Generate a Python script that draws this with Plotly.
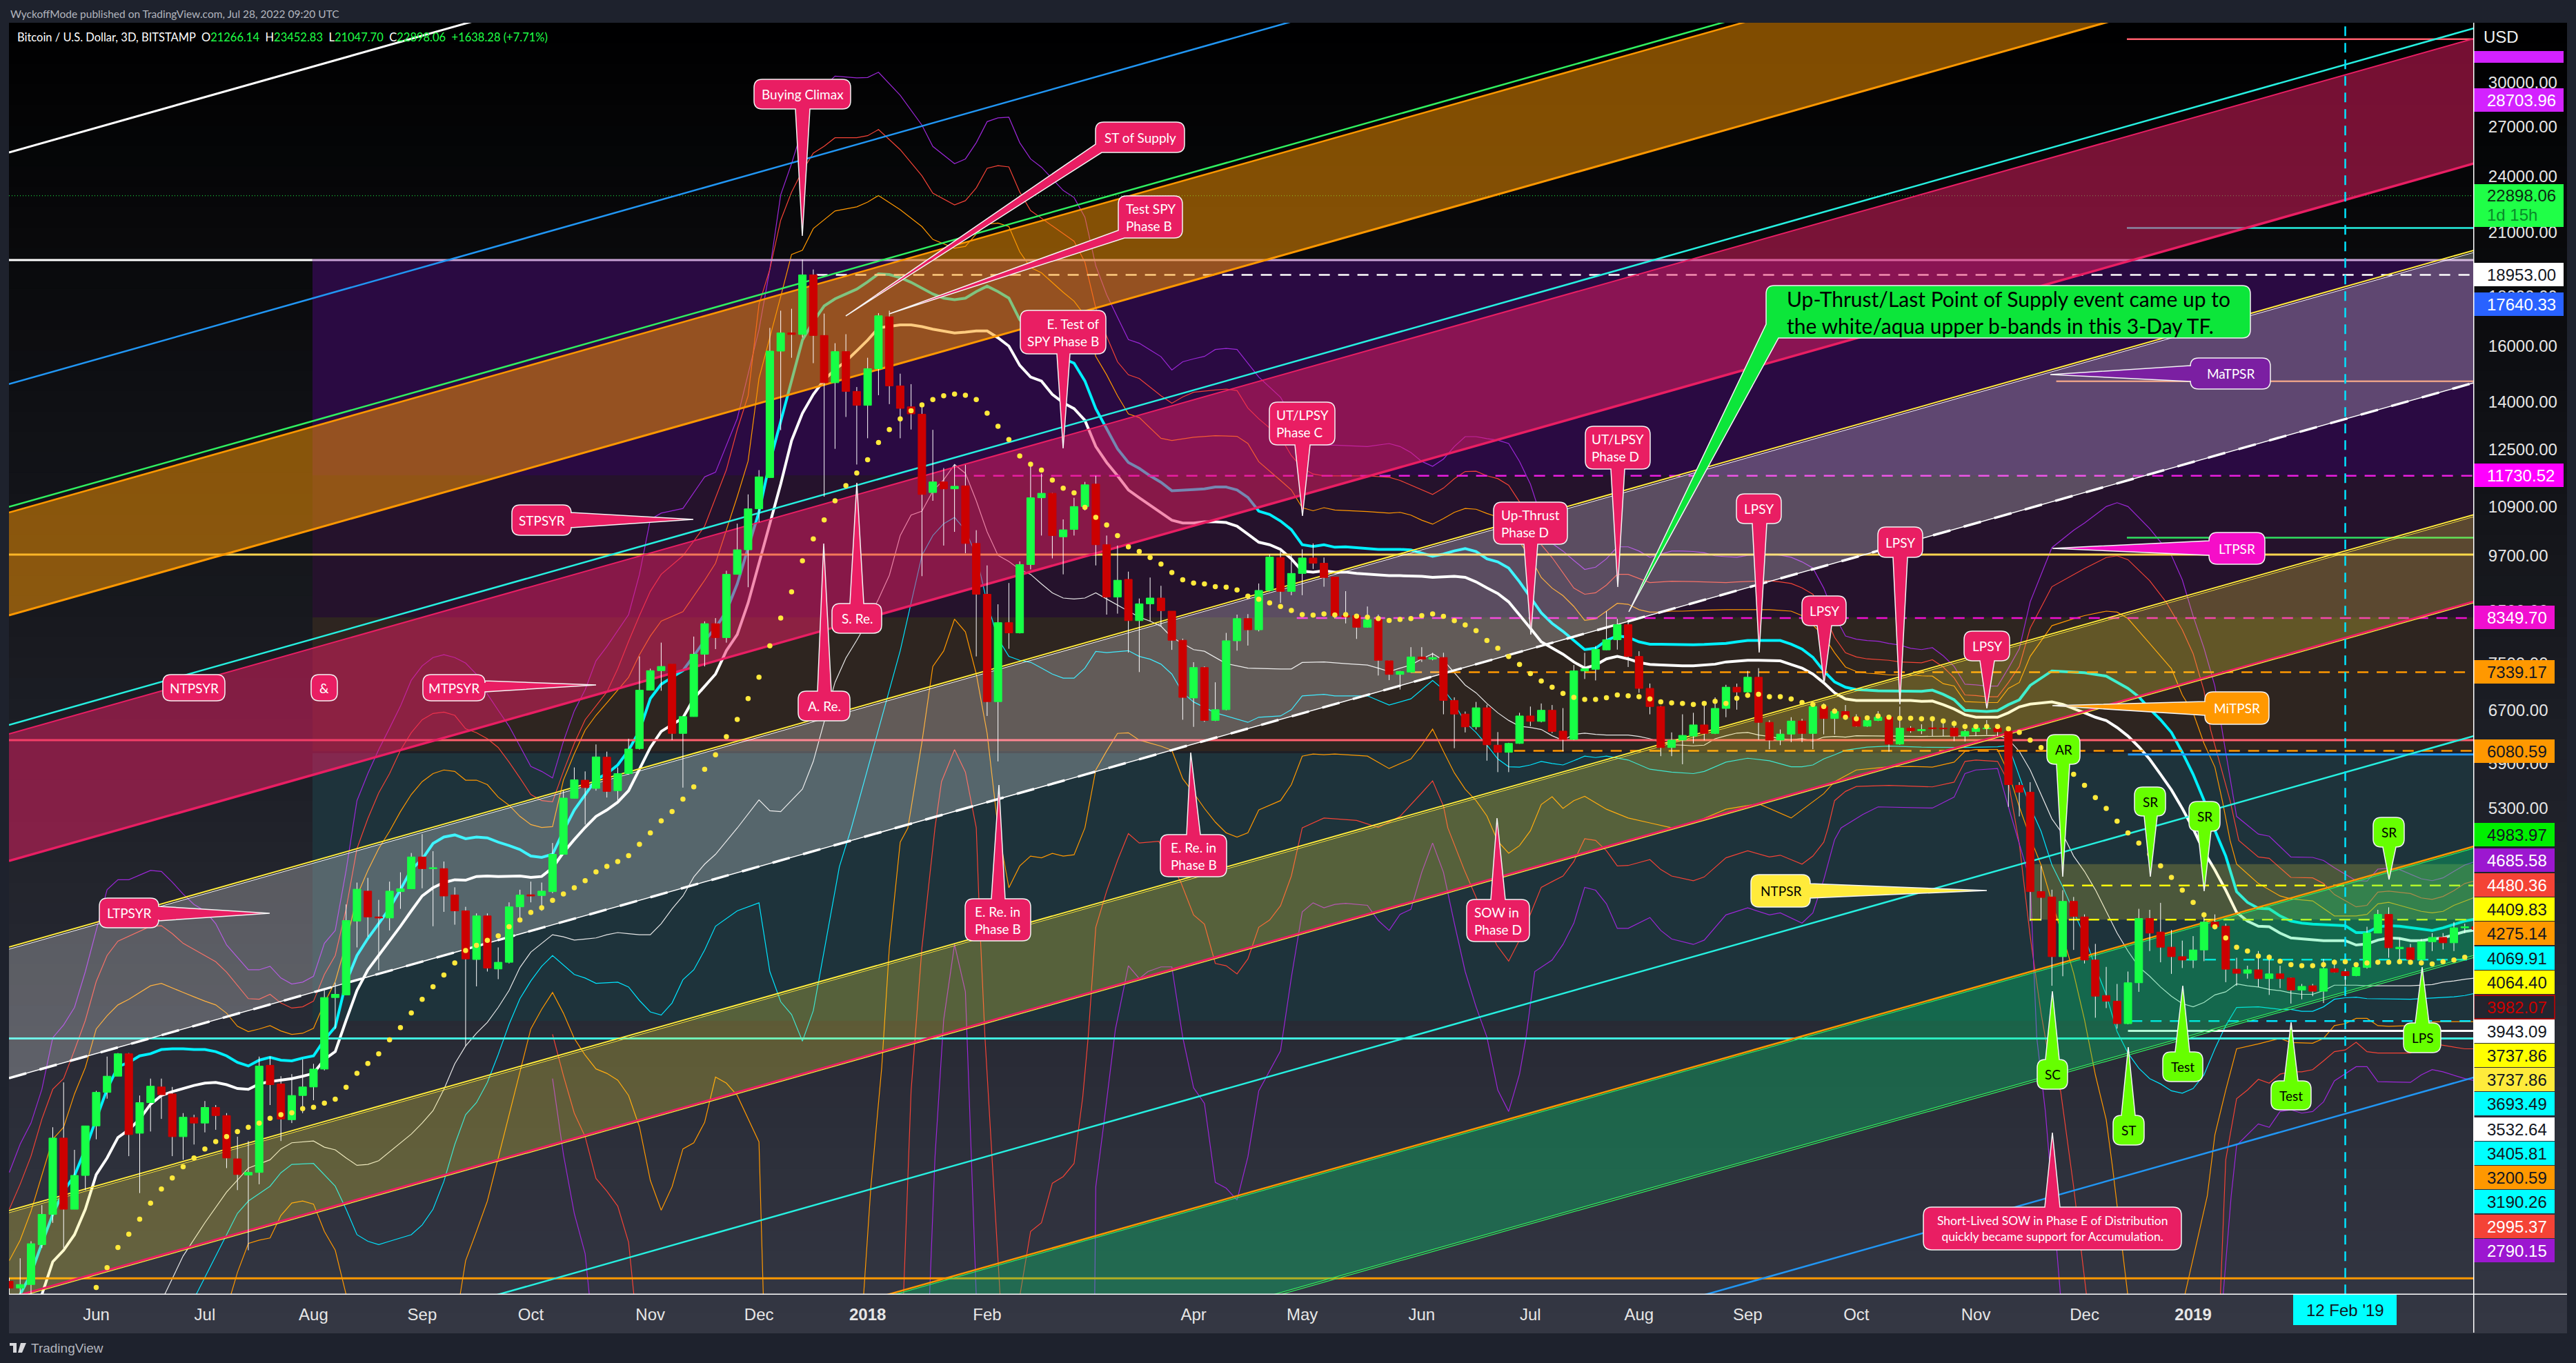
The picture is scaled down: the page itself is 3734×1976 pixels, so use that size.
import plotly.graph_objects as go

# ------------------------------------------------------------------ data
opens = [1713,1686,1700,1870,2010,2412,2035,2206,2483,2690,2796,2950,2440,2625,2725,2680,2420,2533,2500,2595,2545,2295,2208,2222,2870,2745,2520,2670,2725,2844,3374,3395,4050,4350,4090,4080,4345,4375,4720,4590,4590,4310,4150,3695,4100,3612,3670,4190,4312,4305,4345,4750,5430,5670,5560,5990,5530,5760,
6115,7030,7365,7480,6340,6600,7660,8240,7970,9270,9830,10840,11680,15800,16500,16440,18953,16400,14650,15780,14350,13880,15150,17150,14540,13830,13590,11270,11560,11370,11450,9980,8840,6840,8260,8060,9490,11130,11250,10140,10320,10900,11500,9950,8780,9160,8300,8640,8760,8490,7920,6900,7420,6540,6710,7910,
8340,8120,8920,9650,8900,9290,9640,9520,9210,8400,8400,8170,8320,7540,7300,7340,7610,7570,7600,6860,6640,6440,6740,6165,6060,6190,6610,6525,6700,6375,6250,7360,7390,7740,7930,8220,7620,7060,6760,6130,6240,6300,6470,6340,6730,7080,7000,7250,6510,6240,6330,6530,6340,6760,6570,6680,6590,6450,6540,6590,6180,6420,6380,
6425,6420,6420,6300,6370,6410,6420,6370,5600,5510,4345,4290,3720,4245,4090,3690,3390,3345,3170,3495,4075,3945,3805,3720,3690,3780,4040,4000,3610,3575,3605,3530,3570,3535,3435,3470,3425,3615,3590,3555,3625,3935,4115,3790,3800,3695,3855,3895,3845,3985,3995]
closes = [1686,1700,1874,2010,2412,2035,2206,2483,2690,2796,2950,2432,2625,2730,2675,2420,2535,2500,2595,2545,2300,2211,2222,2864,2740,2524,2670,2725,2844,3374,3400,4055,4370,4090,4080,4350,4375,4720,4590,4600,4300,4150,3700,4100,3620,3670,4190,4310,4300,4350,4750,5433,5675,5570,5994,5520,5760,6108,
7030,7365,7440,6340,6600,7660,8240,7970,9270,9830,10840,11700,15800,16500,16440,18953,16400,14650,15780,14350,13880,15150,17190,14540,13780,13600,11220,11560,11370,11440,9980,8840,6840,8260,8060,9490,11130,11250,10170,10310,10900,11480,9950,8780,9140,8300,8640,8760,8500,7920,6910,7420,6540,6710,7910,8340,
8120,8920,9660,8900,9290,9640,9520,9200,8400,8370,8170,8320,7550,7300,7350,7610,7570,7600,6860,6640,6440,6740,6170,6060,6190,6610,6525,6700,6370,6250,7360,7400,7750,7930,8220,7620,7060,6760,6130,6240,6310,6470,6340,6730,7080,7000,7250,6510,6240,6330,6530,6340,6760,6570,6680,6590,6450,6540,6590,6180,6420,6380,6400,
6410,6410,6300,6370,6420,6420,6365,5610,5510,4345,4285,3720,4245,4095,3690,3385,3345,3170,3495,4075,3935,3805,3720,3690,3780,4040,3995,3610,3575,3605,3530,3570,3530,3435,3465,3425,3615,3585,3555,3625,3935,4115,3800,3805,3695,3855,3895,3845,3985,3995,3970]
highs = [1727,1810,1885,2055,2475,2755,2345,2483,2700,2930,2955,2955,2670,2780,2780,2725,2560,2550,2635,2610,2560,2420,2395,2930,2930,2796,2810,2910,2880,3432,3496,4214,4440,4490,4260,4450,4550,4765,4985,4785,4669,4390,4190,4125,4125,3803,4235,4365,4450,4440,4880,5530,5845,5790,6175,6070,5845,6260,
7620,7400,7875,7480,6610,7990,8285,8350,9350,10463,11220,11890,16700,17400,17480,19666,19200,17280,16100,16450,14500,15550,17300,17400,14970,14600,13820,13090,11950,12040,12040,10300,9470,8630,9080,9560,12060,11790,11260,10570,11130,11560,11730,10170,9930,9330,8750,9200,9020,8490,7950,7515,7440,7163,8060,8420,
8430,9070,9720,9800,9720,9840,9980,9650,9215,8905,8410,8585,8420,7545,7360,7790,7790,7687,7687,6910,6680,6835,6790,6360,6200,6660,6760,6810,6785,6735,7465,7687,7810,8490,8335,8274,7715,7142,6770,6355,6636,6660,6835,6910,7120,7140,7360,7410,6540,6400,6590,6565,6810,6810,6735,6785,6636,6590,6685,6620,6760,6450,6480,
6537,6537,6537,6395,6480,6545,6465,6420,5643,5643,4620,4365,4360,4290,4115,3835,3630,3485,3590,4170,4160,4230,3965,3865,3907,4135,4115,4025,3710,3640,3770,3740,3640,3540,3485,3485,3700,3695,3615,3670,3995,4160,4185,3890,3835,3880,3935,3935,4040,4025,4020]
lows = [1660,1660,1660,1855,1970,1855,2035,2130,2405,2650,2796,2310,2115,2450,2525,2310,2290,2375,2445,2460,2245,2130,1845,2160,2610,2395,2500,2560,2640,2835,3130,3395,3803,3900,3600,3960,4170,4375,4380,4000,4140,4015,3005,3465,3590,3525,3660,4060,4235,4150,4330,4750,5430,5100,5530,5440,5360,5745,
6100,7030,7020,6240,5570,6600,7440,7755,7875,9270,8990,10500,11680,13080,15550,16320,15350,11160,12510,13500,12050,12830,14220,13920,12830,13100,9230,11050,9930,10260,9750,7620,6610,5930,7760,8050,9380,10170,9630,9270,10170,10800,9470,8420,8440,7690,7340,8290,8190,7740,6550,6440,6518,6530,6700,7725,
7820,8090,8900,8660,8820,8820,9390,9000,8340,8245,7945,8160,7280,7200,7040,7330,7520,7550,6636,6120,6355,6400,5940,5780,5780,6185,6450,6510,6345,6075,6240,7220,7195,7735,7745,7430,6985,6636,6005,6005,5890,6190,6235,6330,6590,6710,6985,6245,6105,6165,6210,6210,6105,6325,6325,6550,6440,6440,6530,6070,6170,6350,6330,
6300,6300,6225,6220,6300,6320,6300,5320,5200,4050,4055,3470,3550,3780,3660,3215,3290,3133,3165,3420,3770,3670,3570,3620,3620,3680,3970,3500,3470,3530,3460,3395,3450,3325,3360,3385,3330,3580,3470,3550,3615,3935,3710,3680,3690,3685,3770,3785,3770,3935,3950]

dots_first_bar = 8
dots = [1688,1770,1857,1917,1987,2065,2136,2193,2252,2300,2350,2392,2420,2450,2475,2500,2529,2550,2562,2588,2596,2622,2647,2723,2815,2882,2950,3050,3140,3252,3360,3462,3560,3665,3775,3822,3868,3910,3995,4060,4135,4180,4255,4320,4385,4460,4555,4615,4669,4735,4865,5000,5145,5260,5420,
5580,5820,6025,6290,6555,6890,7250,7815,8350,8890,9575,10090,10555,11050,11460,11810,12190,12700,13100,13440,13700,13894,14070,14200,14260,14220,14070,13620,13200,12790,12300,12060,11890,11610,11390,11260,10880,10620,10430,10170,9900,9790,9650,9500,9310,9150,9080,9060,9000,8990,8930,
8800,8735,8660,8585,8505,8420,8410,8435,8415,8420,8390,8370,8340,8305,8325,8340,8400,8435,8385,8300,8215,8105,7915,7770,7620,7475,7315,7185,7080,6975,6910,6875,6875,6905,6950,6935,6920,6885,6835,6820,6810,6795,6810,6845,6810,6895,6945,6960,6920,6920,6885,6825,6795,6760,6685,6590,6565,6580,6610,6590,6575,6575,6565,
6565,6530,6490,6445,6445,6445,6445,6410,6355,6240,6130,5990,5880,5750,5600,5440,5300,5140,5000,4880,4750,4620,4495,4360,4235,4110,3995,3890,3805,3770,3725,3715,3680,3650,3640,3640,3650,3670,3675,3650,3665,3670,3670,3675,3670,3665,3655,3675,3690,3715]

white_thick = [(3,1660),(4,1795),(5,1845),(6,1915),(7,2035),(8,2210),(9,2300),(10,2415),(11,2460),(12,2524),(13,2615),(14,2670),(15,2695),(16,2715),(17,2735),(18,2750),(19,2755),(20,2740),(21,2715),(22,2710),(23,2745),(24,2760),(25,2770),(26,2780),(27,2796),(28,2815),(29,2910),(30,2965),(31,3195),(32,3432),(33,3605),(34,3730),(35,3860),(36,4000),(37,4150),(38,4300),(39,4385),(40,4440),(41,4470),(42,4465),(43,4505),(44,4510),(45,4505),(46,4510),(47,4510),(48,4495),(49,4505),(50,4600),(51,4770),(52,4920),(53,5065),(54,5200),(55,5280),(56,5380),(57,5530),(58,5820),(59,6130),(60,6370),(61,6480),(62,6580),(63,6890),(64,7090),(65,7305),(66,7725),(67,8030),(68,8657),(69,9519),(70,10463),(71,11500),(72,12760),(73,13620),(74,14245),(75,14750),(76,15120),(77,15420),(78,15810),(79,16220),(80,16700),(81,16760),(82,16820),(83,16820),(84,16750),(85,16650),(86,16580),(87,16500),(88,16530),(89,16580),(90,16580),(91,16310),(92,15990),(93,15271),(94,14850),(95,14710),(96,14245),(97,13965),(98,13770),(99,13390),(100,12580),(101,12110),(102,11730),(103,11340),(104,11130),(105,10930),(106,10730),(107,10550),(108,10480),(109,10480),(110,10510),(111,10510),(112,10490),(113,10400),(114,10205),(115,10010),(116,9950),(117,9840),(118,9620),(119,9340),(120,9320),(121,9350),(122,9320),(123,9320),(124,9290),(125,9270),(126,9250),(127,9240),(128,9240),(129,9240),(130,9225),(131,9205),(132,9215),(133,9225),(134,9205),(135,9105),(136,8975),(137,8855),(138,8680),(139,8400),(140,8150),(141,7890),(142,7770),(143,7660),(144,7520),(145,7410),(146,7465),(147,7575),(148,7620),(149,7575),(150,7510),(151,7475),(152,7465),(153,7455),(154,7450),(155,7450),(156,7465),(157,7480),(158,7520),(159,7540),(160,7550),(161,7550),(162,7540),(163,7540),(164,7475),(165,7410),(166,7305),(167,7155),(168,6985),(169,6885),(170,6860),(175,6860),(176,6845),(177,6850),(178,6790),(179,6720),(180,6630),(181,6590),(182,6590),(183,6590),(184,6660),(185,6755),(186,6800),(187,6820),(188,6835),(189,6795),(190,6730),(191,6660),(192,6590),(193,6537),(194,6430),(195,6300),(196,6140),(197,5960),(198,5750),(199,5540),(200,5300),(201,5050),(202,4780),(203,4575),(204,4360),(205,4135),(206,4050),(207,4000),(208,3995),(209,3935),(210,3890),(211,3880),(212,3870),(213,3865),(215,3865),(216,3825),(217,3835),(218,3870),(219,3890),(220,3885),(221,3865),(222,3865),(223,3880),(224,3890),(225,3920),(226,3950),(227,3965)]
cyan_thick = [(1,1660),(2,1745),(3,1875),(4,2010),(5,2125),(6,2205),(7,2350),(8,2524),(9,2710),(10,2860),(11,2890),(12,2935),(13,2950),(14,2980),(15,2985),(16,2985),(17,2980),(18,2980),(19,2965),(20,2935),(21,2890),(22,2865),(23,2905),(24,2925),(25,2905),(26,2900),(27,2920),(28,2935),(29,3050),(30,3145),(31,3500),(32,3730),(33,3885),(34,4025),(35,4175),(36,4365),(37,4580),(38,4695),(39,4875),(40,4950),(41,4975),(42,4930),(43,4950),(44,4940),(45,4890),(46,4850),(47,4805),(48,4730),(49,4715),(50,4750),(51,5020),(52,5280),(53,5480),(54,5680),(55,5760),(56,5880),(57,6090),(58,6380),(59,6890),(60,7130),(61,7250),(62,7365),(63,7630),(64,7915),(65,8155),(66,8490),(67,9060),(68,9900),(69,10760),(70,12120),(71,13370),(72,14750),(73,16220),(74,16950),(75,17600),(76,17900),(77,18110),(78,18320),(79,18640),(80,19000),(81,18970),(82,18830),(83,18620),(84,18350),(85,18110),(86,17930),(87,17860),(88,17930),(89,18210),(90,18450),(91,18210),(92,17930),(93,17030),(94,16630),(95,16310),(96,15900),(97,15520),(98,15350),(99,14710),(100,13770),(101,13130),(102,12510),(103,12110),(104,11940),(105,11730),(106,11550),(107,11320),(108,11330),(109,11350),(110,11370),(111,11420),(112,11420),(113,11340),(114,11140),(115,10780),(116,10695),(117,10530),(118,10315),(119,9950),(120,9910),(121,9950),(122,9890),(123,9900),(124,9880),(125,9860),(126,9840),(128,9840),(129,9825),(130,9750),(131,9680),(132,9730),(133,9805),(134,9860),(135,9790),(136,9620),(137,9550),(138,9410),(139,9105),(140,8775),(141,8455),(142,8245),(143,8090),(144,7915),(145,7745),(146,7770),(147,7915),(148,8005),(149,7975),(150,7890),(151,7845),(152,7845),(153,7840),(154,7840),(155,7835),(156,7840),(157,7845),(158,7860),(159,7890),(160,7915),(163,7915),(164,7845),(165,7755),(166,7605),(167,7360),(168,7170),(169,7080),(170,7040),(171,7030),(172,7020),(176,7010),(177,7030),(178,6960),(179,6870),(180,6700),(181,6690),(182,6680),(183,6695),(184,6790),(185,6870),(186,7110),(188,7360),(190,7340),(191,7330),(193,7270),(194,7170),(195,7060),(196,6920),(197,6720),(198,6550),(199,6355),(200,6060),(201,5750),(202,5405),(203,5030),(204,4730),(205,4345),(206,4235),(207,4175),(208,4170),(209,4100),(210,4050),(211,4030),(212,4020),(213,4015),(214,4005),(215,4005),(216,3940),(217,3940),(218,3995),(219,4005),(220,4000),(221,3985),(222,3970),(223,3960),(224,3985),(225,4020),(226,4050),(227,4070)]

purple_upper = [(0,2222),(1,2377),(2,2500),(3,2710),(4,3065),(5,3160),(6,3295),(7,3590),(8,3960),(9,4365),(10,4470),(11,4470),(12,4520),(13,4570),(14,4560),(15,4445),(16,4320),(17,4214),(18,4150),(19,4025),(20,3825),(21,3710),(22,3605),(23,3605),(24,3635),(25,3535),(26,3485),(27,3500),(28,3550),(29,3840),(30,3960),(31,4570),(32,5400),(33,5760),(34,6100),(35,6420),(36,6765),(37,7200),(38,7450),(39,7600),(40,7650),(41,7600),(42,7500),(43,7300),(44,6965),(45,6700),(46,6450),(47,6150),(48,5860),(49,5790),(50,5700),(51,6220),(52,6690),(53,7036),(54,7540),(55,7800),(56,8100),(57,8420),(58,9270),(59,10570),(60,10730),(62,10850),(64,11700),(65,11830),(67,13450),(68,14930),(69,16630),(70,19210),(71,22950),(72,24720),(73,26880),(74,29000),(76,30470),(78,30340),(79,30370),(80,30750),(82,29110),(84,27100),(85,25760),(87,24720),(88,25000),(89,25990),(90,27330),(91,27580),(92,27620),(93,25990),(94,25000),(95,24510),(97,23190),(98,22800),(99,21750),(100,19370),(101,18080),(102,17130),(103,16240),(104,16100),(106,15590),(107,15100),(108,15400),(109,15510),(110,15600),(111,15860),(112,15900),(113,15860),(114,15340),(115,14850),(117,14150),(118,13530),(119,12860),(120,12670),(121,12620),(122,12620),(125,12580),(127,12670),(128,12580),(129,12400),(130,12140),(131,12000),(132,12210),(133,12580),(134,12880),(135,12880),(136,12820),(137,12770),(138,12670),(139,12140),(140,11500),(141,10620),(142,9980),(143,9800),(144,9584),(145,9380),(146,9430),(147,9620),(148,9900),(149,9900),(150,9800),(151,9655),(152,9730),(153,9800),(154,9800),(155,9790),(156,9760),(157,9690),(158,9670),(159,9655),(160,9700),(161,9715),(162,9730),(163,9705),(164,9655),(165,9550),(166,9410),(167,8970),(168,8400),(169,8000),(170,7940),(171,7915),(172,7900),(173,7860),(174,7830),(175,7770),(176,7745),(177,7780),(178,7630),(179,7440),(180,7130),(181,7120),(182,7100),(183,7100),(184,7410),(185,7760),(186,8680),(188,9880),(190,10300),(191,10480),(193,10900),(194,11000),(195,10900),(197,10340),(199,9700),(200,9150),(201,8390),(202,7770),(203,7100),(204,6060),(205,5200),(207,4985),(208,4960),(210,4720),(212,4715),(213,4680),(214,4600),(216,4460),(217,4455),(218,4585),(219,4595),(220,4580),(221,4530),(222,4480),(223,4460),(224,4490),(225,4560),(226,4630),(227,4670)]
red_upper = [(0,2035),(1,2160),(2,2310),(3,2524),(4,2710),(5,2780),(6,2975),(7,3195),(8,3505),(9,3730),(10,3860),(11,3905),(12,3955),(13,4000),(14,4005),(15,3930),(16,3840),(17,3785),(18,3730),(19,3675),(20,3585),(21,3470),(22,3365),(23,3360),(24,3400),(25,3330),(26,3290),(27,3300),(28,3345),(29,3565),(30,3730),(31,4170),(32,4815),(33,5173),(34,5500),(35,5760),(36,6090),(37,6351),(38,6550),(39,6650),(40,6670),(41,6620),(42,6410),(43,6351),(44,6260),(45,6130),(46,5920),(47,5700),(48,5480),(49,5400),(50,5385),(51,5790),(52,6190),(53,6550),(54,6765),(55,7000),(56,7400),(57,7900),(58,8400),(59,8900),(60,9270),(62,9690),(64,10400),(66,11900),(67,13100),(68,14200),(69,17660),(70,19210),(71,21600),(72,23100),(73,24300),(74,25350),(75,25770),(76,26300),(78,26300),(79,26430),(80,26820),(82,25560),(84,24010),(85,23040),(87,22400),(88,22630),(89,23330),(90,24450),(91,24600),(92,24530),(93,23100),(94,22100),(95,21700),(97,20900),(98,20540),(99,19530),(100,17500),(101,16370),(102,15400),(103,14930),(104,14800),(106,14200),(107,13950),(108,14160),(109,14320),(111,14400),(112,14430),(113,14380),(114,13790),(115,13440),(117,12862),(118,12310),(119,11950),(120,11780),(121,11730),(125,11730),(127,11690),(128,11600),(129,11470),(130,11340),(131,11220),(132,11390),(133,11650),(134,11850),(135,11860),(136,11730),(137,11650),(138,11470),(139,11020),(140,10550),(141,9950),(142,9650),(143,9300),(144,8970),(145,8840),(146,8870),(147,9035),(148,9270),(149,9270),(150,9180),(151,9090),(152,9105),(153,9120),(155,9110),(156,9105),(158,9090),(159,9105),(160,9110),(161,9125),(162,9130),(163,9105),(164,9070),(165,8975),(166,8840),(167,8450),(168,7975),(169,7687),(170,7610),(171,7575),(172,7565),(173,7550),(174,7520),(175,7510),(176,7505),(177,7560),(178,7430),(179,7240),(180,6950),(181,6940),(182,6920),(183,6920),(184,7160),(185,7440),(186,8150),(188,9000),(190,9260),(191,9400),(193,9650),(194,9690),(195,9600),(197,9130),(198.5,8680),(200,8120),(201,7670),(202,7020),(202.6,6400),(203.5,5880),(204.4,5400),(205.2,4910),(207,4720),(208,4705),(210,4495),(212,4490),(213,4430),(214,4315),(216,4190),(217,4205),(218,4340),(219,4350),(220,4340),(221,4325),(222,4280),(223,4265),(224,4295),(225,4355),(226,4430),(227,4460)]
orange_upper = [(0,1800),(1,1890),(2,2025),(3,2210),(4,2405),(5,2475),(6,2680),(7,2855),(8,3130),(9,3230),(10,3315),(11,3360),(12,3415),(13,3470),(14,3490),(15,3450),(16,3415),(17,3380),(18,3345),(19,3315),(20,3250),(21,3150),(22,3110),(23,3130),(24,3155),(25,3115),(26,3090),(27,3098),(28,3135),(29,3330),(30,3505),(31,3840),(32,4300),(33,4570),(34,4815),(35,5020),(36,5260),(37,5480),(38,5650),(39,5760),(40,5810),(41,5790),(42,5670),(43,5670),(44,5610),(45,5445),(46,5340),(47,5200),(48,5100),(49,5065),(50,5075),(51,5670),(52,6040),(53,6390),(54,6620),(55,6820),(56,7036),(57,7250),(58,7650),(59,8000),(60,8290),(62,8480),(64,9140),(65,9519),(67,11160),(68,12150),(69,14800),(70,16300),(71,18000),(72,19900),(73,20100),(74,21170),(75,21620),(76,22080),(78,22300),(79,22550),(80,22910),(82,22150),(84,21270),(85,20630),(87,20200),(88,20290),(89,20900),(90,21400),(91,21450),(92,21270),(93,20030),(94,19290),(95,19050),(97,18180),(98,17800),(99,17200),(100,15600),(101,14930),(102,14200),(103,13600),(104,13480),(106,12830),(107,12760),(109,12862),(111,12910),(113,12890),(114,12670),(115,12130),(117,11600),(118,11340),(119,10870),(120,10790),(121,10870),(122,10810),(125,10770),(127,10730),(128,10750),(129,10680),(130,10550),(131,10450),(132,10590),(133,10750),(134,10850),(135,10830),(136,10720),(137,10630),(138,10390),(139,10010),(140,9655),(141,9200),(142,8970),(143,8810),(144,8585),(145,8305),(146,8335),(147,8490),(148,8650),(149,8630),(150,8520),(151,8470),(152,8470),(153,8490),(154,8490),(156,8510),(158,8520),(162,8520),(164,8490),(165,8400),(166,8215),(167,8000),(168,7687),(169,7430),(170,7350),(171,7320),(172,7310),(173,7290),(175,7290),(176,7275),(177,7270),(178,7140),(179,7100),(180,6840),(181,6830),(182,6825),(183,6825),(184,7060),(185,7160),(186,7620),(188,8200),(190,8340),(191,8400),(193,8490),(194,8470),(195,8340),(197,7860),(199,7400),(200,6950),(201,6660),(202,6190),(203,5850),(203.7,5390),(204.4,4910),(205,4640),(207,4430),(209,4300),(210,4270),(212,4250),(214,4100),(216,4100),(217,4115),(218,4220),(219,4235),(220,4205),(221,4175),(222,4145),(223,4130),(224,4145),(225,4205),(226,4250),(227,4290)]
white_lower = [(14.3,1660),(16,1820),(18,1970),(20,2120),(22,2245),(24,2290),(25,2350),(26,2385),(28,2395),(29,2360),(30,2345),(31,2300),(32,2260),(33,2265),(34,2285),(35,2335),(36,2385),(37,2435),(38,2500),(39,2575),(40,2710),(41,2880),(42,3005),(43,3098),(44,3180),(45,3295),(46,3432),(47,3625),(48,3760),(49,3840),(50,3920),(51,3900),(52,3870),(53,3880),(54,3890),(55,3920),(56,3940),(57,3930),(58,3920),(59,3920),(60,4025),(61,4170),(62,4300),(63,4500),(64,4640),(65,4750),(66,4900),(67,5057),(69,5410),(70,5270),(71,5260),(73,5550),(74,5930),(75,6518),(76,7163),(77,7590),(78,7920),(79,8290),(80,8740),(81,9250),(82,10170),(83,10680),(84,10780),(85,11310),(86,11620),(87,12050),(88,11800),(89,11050),(90,10260),(91,9700),(92,9560),(93,9380),(94,9270),(95,9060),(96,8870),(97,8760),(98,8740),(99,8760),(100,8870),(101,8740),(102,8620),(103,8490),(104,8370),(105,8290),(106,8190),(107,7975),(109,7745),(110,7715),(112,7490),(114,7410),(117,7395),(118,7395),(119,7510),(121,7520),(123,7490),(125,7465),(126,7410),(127,7350),(128,7410),(129,7465),(130,7575),(131,7670),(132,7550),(133,7325),(134,7115),(135,6985),(136,6810),(137,6660),(138,6540),(139,6450),(140,6430),(141,6400),(142,6305),(143,6235),(144,6325),(145,6345),(146,6325),(147,6315),(149,6315),(150,6295),(151,6260),(152,6210),(153,6170),(154,6165),(155,6155),(156,6165),(157,6260),(158,6305),(159,6345),(160,6355),(161,6315),(162,6295),(163,6260),(164,6245),(165,6260),(166,6225),(167,6285),(168,6295),(169,6285),(170,6305),(176,6295),(179,6300),(183,6310),(184,6250),(185,6074),(186,5810),(187,5485),(188,5170),(189,4985),(190,4730),(191,4560),(192,4365),(193,4145),(194,3935),(195,3770),(196,3630),(197,3550),(198,3460),(199,3385),(200,3325),(201,3300),(202,3335),(203,3395),(204,3420),(205,3485),(206,3470),(207,3460),(208,3440),(209,3430),(210,3410),(211,3400),(212,3400),(213,3430),(214,3475),(216,3475),(217,3470),(221,3470),(222,3475),(223,3480),(224,3500),(225,3510),(226,3525),(227,3535)]
cyan_lower = [(17.2,1660),(19,1820),(21,2015),(22,2075),(24,2150),(25,2220),(26,2265),(28,2270),(29,2210),(30,2150),(31,2035),(32,1915),(33,1885),(34,1870),(35,1885),(36,1900),(37,1915),(38,1960),(39,2035),(40,2175),(41,2375),(42,2550),(43,2625),(44,2755),(45,2945),(46,3165),(47,3365),(48,3510),(49,3635),(50,3730),(52,3565),(53,3535),(54,3490),(56,3500),(57,3460),(58,3350),(59,3260),(60,3235),(61,3330),(62,3520),(63,3605),(64,3780),(65,4000),(67,4150),(69,4230),(70,3590),(71,3340),(72,3240),(73,3040),(74,3270),(75,3780),(76.4,4610),(77.5,5057),(80,6410),(82,7725),(83,8657),(84,9700),(85,10170),(86,10463),(87,10620),(88,10300),(89,9700),(90,8657),(91,7950),(92,7620),(93,7550),(94,7515),(95,7410),(96,7305),(97,7235),(98,7235),(99,7410),(100,7710),(101,7690),(102,7710),(103,7725),(104,7620),(105,7570),(106,7480),(107,7305),(108,6985),(109,6835),(111,6660),(112,6610),(114,6510),(115,6590),(117,6610),(118,6710),(119,6935),(121,6960),(122,6935),(125,6935),(127,6785),(129,6885),(130,7040),(131,7195),(132,7040),(133,6810),(134,6510),(135,6355),(136,6165),(137,5965),(138,5855),(139,5850),(140,5880),(141,5930),(142,5900),(143,5880),(144,5940),(145,6005),(146,5985),(147,6005),(149,5950),(151,5820),(153,5780),(155,5760),(156,5790),(158,5920),(160,5975),(162,5940),(164,5855),(165,5855),(166,5880),(167,5965),(168,6025),(169,6090),(171,6135),(173,6150),(176,6135),(180,6130),(183,6140),(184,6160),(185,5725),(186,5320),(187,5020),(188,4630),(189,4395),(190,4145),(191,3907),(192,3630),(193,3395),(194,3110),(195,2955),(196,2850),(197,2780),(198,2745),(199,2700),(200,2685),(201,2715),(202,2805),(203,2985),(204,3155),(205,3295),(207,3300),(208,3290),(209,3280),(210,3280),(211,3265),(212,3265),(213,3300),(214,3360),(215,3372),(216,3377),(217,3365),(221,3360),(222,3365),(224,3372),(225,3380),(226,3390),(227,3410)]
orange_lower = [(20.4,1660),(21,1750),(22,1875),(23,1890),(24,1900),(25,2005),(26,2065),(27,2075),(28,2060),(29,1930),(30,1845),(31,1660),(32,1400),(40,1350),(41.5,1660),(42,1800),(43,1930),(44,2075),(45,2300),(46,2550),(47,2825),(48,3130),(49,3280),(50,3415),(51,3250),(52,3060),(53,2940),(54,2845),(55,2815),(56,2770),(57,2670),(58,2477),(59,2180),(60,2030),(61,2147),(62,2350),(63,2385),(64,2505),(65,2790),(66,2750),(67,2670),(69,2390),(69.4,1652),(70,1300),(78,1300),(78.6,1652),(79.3,2147),(80.3,2857),(81,3802),(82,4890),(82.7,5057),(84,6210),(85,7440),(86,7720),(87,8330),(88,8080),(89,7305),(90,6340),(91,5057),(92,4386),(93,4620),(94,4730),(95,4711),(96,4760),(97,4730),(98,4745),(99,5060),(100,5810),(101,6080),(102,6340),(103,6350),(104,6240),(106,6150),(107,6090),(108,5690),(109,5500),(110,5300),(111,5130),(112,5000),(113,4950),(114,5000),(115,5280),(117,5400),(118,5610),(119,6005),(120,6035),(121,6025),(122,6035),(125,6005),(127,5830),(129,5965),(130,6165),(131,6405),(132,6075),(133,5770),(134,5550),(135,5400),(136,5205),(137,4900),(138,4762),(139,4850),(140,5025),(141,5350),(142,5450),(143,5300),(144,5400),(145,5455),(147,5290),(149,5180),(151,5120),(153,5060),(155,5120),(158,5290),(161,5360),(164,5180),(167,5490),(168,5650),(170,5810),(173,5855),(175,5860),(177,5850),(179,5920),(180,6074),(181,6100),(183,6100),(184,5770),(185,5320),(186,4945),(187,4630),(188,4240),(189,3907),(190,3575),(191,3200),(192,2805),(193,2520),(193.6,2240),(195,1652),(196,1300),(199,1300),(200.2,1652),(202.3,2100),(203,2430),(204,2705),(205,2985),(207,3020),(209,3060),(210,3030),(212,3025),(213,3060),(214,3155),(215,3170),(216,3210),(217,3210),(218,3155),(219,3150),(221,3155),(222,3180),(224,3185),(227,3185)]
red_lower = [(50,3090),(51,2800),(52,2560),(53,2420),(54,2190),(55,2125),(56,2050),(57,1880),(57.5,1652),(58,1300),(82,1300),(82.3,1652),(83,2700),(84,3802),(85.2,5060),(85.8,5650),(87,6100),(88,5780),(89,5060),(89.3,4084),(89.8,3069),(90.3,2477),(91.2,1652),(92,1300),(92.6,1300),(93,1652),(94,1930),(95,1970),(96,2165),(97,2200),(98,2270),(98.8,2660),(99.3,3069),(100,3990),(101,4350),(102,4680),(103,4990),(104,4880),(105.8,4900),(107.8,4450),(109,4110),(110,4020),(111,3660),(112,3640),(113,3570),(114,3700),(115,3990),(116,4060),(117,4200),(118,4510),(119,5060),(121,5180),(124,5150),(126,5064),(128,5200),(130,5500),(131,5660),(132,5330),(132.4,5060),(133.9,4580),(135,4290),(136.9,3825),(138,3680),(139.1,3890),(140.2,4170),(141,4390),(142,4450),(143,4510),(144,4670),(145,4930),(146,4910),(147,4790),(148,4620),(149,4625),(151,4690),(152,4580),(153,4510),(155,4460),(156,4500),(158,4710),(160,4790),(162,4720),(163,4740),(165,4640),(166,4730),(167,4890),(167.4,5060),(168,5400),(169,5520),(170,5585),(173,5600),(177,5580),(179,5643),(180,5930),(181,5950),(183,5930),(184,5643),(185,4871),(186,3907),(187,3250),(188,2805),(188.8,2700),(190,2147),(191.2,1652),(192,1300),(203,1300),(203.5,1650),(204,2290),(205,2650),(206,2705),(207,2775),(208,2750),(209,2810),(210,2825),(211,2825),(212,2840),(213,2900),(214,2965),(215,2977),(216,3032),(217,2965),(218,2955),(221,2955),(222,3000),(223,3020),(224,3010),(226,2985),(227,2985)]
purple_lower = [(50,2780),(51,2320),(52,2015),(53,1830),(53.4,1652),(54,1300),(84,1300),(84.7,1652),(85.2,2306),(86,3200),(87,3830),(88,3420),(88.3,2760),(89,1652),(90,1300),(99,1300),(99.9,1652),(100,2147),(100.7,2477),(101.8,3125),(103,3640),(104,3530),(104.8,3590),(106,3630),(107,3630),(108,3069),(109,2720),(110,2620),(111,2170),(112,2140),(113,2080),(114,2306),(115,2700),(117,2970),(118,3540),(119,4140),(120,4230),(121,4180),(122,4215),(123,4225),(125,4205),(126,4055),(127,3960),(128,4115),(129,4165),(130,4550),(131,4880),(132,4550),(133,4030),(134,3590),(135,3300),(136,3069),(137,2705),(138,2570),(139,2810),(139.6,3069),(140.4,3590),(142,3690),(143,3830),(144,4030),(145,4390),(146,4360),(147,4220),(148,3980),(149,3980),(151,4084),(152,3960),(153,3880),(155,3830),(156,3870),(158,4110),(160,4180),(162,4110),(163,4130),(165,4030),(166,4130),(167,4470),(168,4920),(168.6,5060),(170.6,5225),(172,5320),(177,5305),(179,5445),(180,5760),(181,5810),(183,5830),(184,5320),(185,4871),(186,4460),(186.6,3069),(187.4,2570),(188.8,1652),(190,1300),(203,1300),(204.5,2100),(205,2370),(207,2495),(208,2475),(209,2570),(210,2580),(211,2560),(212,2570),(213,2630),(214,2765),(216,2860),(217,2860),(218,2760),(221,2755),(222,2805),(223,2840),(224,2825),(226,2780),(227,2765)]

# channel edges: price at the left and at the right edge of the chart
X_LEFT, X_RIGHT = -0.03, 226.84
ch_white_top = (25390, 134000)
ch_blue_top = (14600, 77100)
ch_green_top = (10890, 57500)
ch_orange_hi = (10745, 56700)
ch_orange_lo = (8406, 44400)
ch_cyan_1 = (6470, 34160)
ch_pink_hi = (6332, 33330)
ch_pink_lo = (4676, 24730)
ch_yellow_hi = (3806, 20100)
ch_white_hi = (3787, 20000)
ch_white_lo = (2783, 14650)
ch_olive_hi = (2028, 10690)
ch_olive_hi2 = (2018, 10640)
ch_olive_lo = (1646, 8688)
ch_olive_lo2 = (1640, 8660)
ch_cyan_2 = (1193, 6301)
ch_green_hi = (917, 4841)
ch_green_hi2 = (913, 4820)
ch_green_lo = (707, 3731)
ch_green_lo2 = (704, 3713)
ch_blue_low = (528, 2788)

# horizontal levels: (first bar, price)
top_price = 19640
zone_start_bar = 27.9
level_yellow = (X_LEFT, 9720)
level_salmon = (X_LEFT, 6240)
level_teal = (X_LEFT, 3060)
level_orange = (X_LEFT, 1725)
level_red_ray = (194.9, 33280)
level_cyan_ray = (194.9, 21200)
level_salmon_ray = (188.4, 14700)
level_green_ray = (194.9, 10120)
level_blue_ray = (195, 6030)
level_white_ray = (195, 3116)
dash_levels = [(74.3, 18953, '#ffffff'), (87, 11730.52, '#e91ee0'), (118.5, 8349.70, '#f00fd0'),
               (129, 7339.17, '#ff9800'), (138.5, 6080.59, '#ff9800'), (189, 4409.83, '#ffff00'),
               (186, 4064.40, '#ffff00'), (200.3, 3693.49, '#00e5ff'), (195.3, 3190.26, '#00e5ff')]
last_price = 22898.06
crosshair_bar = 215

tick_prices = [30000, 27000, 24000, 21000, 18000, 16000, 14000, 12500, 10900, 9700, 8500, 7500, 6700, 5900, 5300]
month_bars = [8, 18, 28, 38, 48, 59, 69, 79, 90, 109, 119, 130, 140, 150, 160, 170, 181, 191, 201]
month_names = ['Jun', 'Jul', 'Aug', 'Sep', 'Oct', 'Nov', 'Dec', '<b>2018</b>', 'Feb', 'Apr', 'May', 'Jun', 'Jul', 'Aug', 'Sep', 'Oct', 'Nov', 'Dec', '<b>2019</b>']

# ------------------------------------------------------------------ page geometry
W, H = 3734, 1976
PL, PR, PT, PB = 13, 3586, 33, 1876
NARROW = 'Lato, Liberation Sans, sans-serif'
SANS = 'Liberation Sans, sans-serif'
PINK, LIME = '#e91e63', '#66ff00'


def fx(px):
    return (px - PL) / (PR - PL)


def fy(py):
    return 1 - (py - PT) / (PB - PT)


shapes, notes = [], []


def rect(x0, y0, x1, y1, fill, layer='above', line=None, lw=0):
    shapes.append(dict(type='rect', xref='paper', yref='paper', x0=fx(x0), x1=fx(x1), y0=fy(y0), y1=fy(y1),
                       fillcolor=fill, layer=layer, line=dict(color=line or fill, width=lw)))


def note(px, py, text, size=19, color='#ffffff', font=NARROW, xanchor='center', align='center'):
    notes.append(dict(xref='paper', yref='paper', x=fx(px), y=fy(py), text=text, showarrow=False,
                      xanchor=xanchor, yanchor='middle', align=align,
                      font=dict(family=font, size=size, color=color)))


def callout(text, box, tip=None, base=None, side=None, fill=PINK, color='#ffffff', size=19, align='center', r=12):
    x0, y0, x1, y1 = box
    P = lambda a, b: f'{fx(a):.6f},{fy(b):.6f}'
    t = P(*tip) if tip else ''
    d = f'M {P(x0 + r, y0)} '
    if side == 'top':
        d += f'L {P(base[0], y0)} L {t} L {P(base[1], y0)} '
    d += f'L {P(x1 - r, y0)} Q {P(x1, y0)} {P(x1, y0 + r)} '
    if side == 'right':
        d += f'L {P(x1, base[0])} L {t} L {P(x1, base[1])} '
    d += f'L {P(x1, y1 - r)} Q {P(x1, y1)} {P(x1 - r, y1)} '
    if side == 'bottom':
        d += f'L {P(base[1], y1)} L {t} L {P(base[0], y1)} '
    if side == 'corner':
        d += f'L {P(base[0], y1)} L {t} L {P(x0, base[1])} '
    else:
        d += f'L {P(x0 + r, y1)} Q {P(x0, y1)} {P(x0, y1 - r)} '
    if side == 'left':
        d += f'L {P(x0, base[1])} L {t} L {P(x0, base[0])} '
    d += f'L {P(x0, y0 + r)} Q {P(x0, y0)} {P(x0 + r, y0)} Z'
    shapes.append(dict(type='path', xref='paper', yref='paper', path=d, fillcolor=fill, layer='above',
                       line=dict(color='#f4f4f4', width=1.5)))
    note((x0 + x1) / 2, (y0 + y1) / 2, text, size=size, color=color, align=align)


# background gradient across the whole panel
panel_top, panel_bottom, panel_right = 33, 1932, 3721
steps = 64
for k in range(steps):
    t = (k + 0.5) / steps
    c = tuple(round(v * t) for v in (52, 55, 68))
    rect(PL, panel_top + (panel_bottom - panel_top) * k / steps, panel_right,
         panel_top + (panel_bottom - panel_top) * (k + 1) / steps + 1, f'rgb{c}', layer='below')
# horizontal zones
rect(453, 376, PR, 689, '#2a0a42', layer='below')
rect(453, 689, PR, 895, '#25122c', layer='below')
rect(453, 895, PR, 1089, '#2e2520', layer='below')
rect(453, 1092, PR, 1480, '#1e333b', layer='below')

fig = go.Figure()


def pairs(name, points, color, width):
    fig.add_trace(go.Scatter(x=[p[0] for p in points], y=[p[1] for p in points], mode='lines', name=name,
                             line=dict(color=color, width=width), hoverinfo='skip', showlegend=False))


def seg(edge, color, width=2, dash=None):
    fig.add_trace(go.Scatter(x=[X_LEFT, X_RIGHT], y=list(edge), mode='lines', hoverinfo='skip', showlegend=False,
                             line=dict(color=color, width=width, dash=dash)))


def band(hi, lo, color):
    fig.add_trace(go.Scatter(x=[X_LEFT, X_RIGHT, X_RIGHT, X_LEFT], y=[hi[0], hi[1], lo[1], lo[0]], mode='lines',
                             fill='toself', fillcolor=color, line=dict(width=0), hoverinfo='skip', showlegend=False))


def level(first, price, color, width=2, dash=None, last=None):
    fig.add_trace(go.Scatter(x=[first, X_RIGHT if last is None else last], y=[price, price], mode='lines',
                             hoverinfo='skip', showlegend=False, line=dict(color=color, width=width, dash=dash)))


pairs('purple up', purple_upper, '#9c27d8', 1.2)
pairs('red up', red_upper, '#f44336', 1.2)
pairs('orange up', orange_upper, '#ff9800', 1.2)
pairs('white low', white_lower, '#e8e8e8', 1.2)
pairs('cyan low', cyan_lower, '#00e5ff', 1.2)
pairs('orange low', orange_lower, '#ff9800', 1.2)
pairs('red low', red_lower, '#f44336', 1.2)
pairs('purple low', purple_lower, '#9c27d8', 1.2)
pairs('cyan', cyan_thick, '#00f0ff', 4)
pairs('white', white_thick, '#ffffff', 4)

level(X_LEFT, top_price, '#ffffff', 3, last=zone_start_bar)
level(zone_start_bar, top_price, '#c9a3d6', 3)
level(*level_yellow, '#ffd54f', 3)
level(*level_salmon, '#ff5f6d', 3)
level(*level_teal, '#40f0e0', 3)
level(*level_orange, '#ff9800', 3)
level(*level_red_ray, '#ff5f6d', 2.5)
level(*level_cyan_ray, '#26f0e0', 2.5)
level(*level_salmon_ray, '#e08060', 2.5)
level(*level_green_ray, '#30e060', 2.5)
level(*level_blue_ray, '#2196f3', 3)
level(*level_white_ray, '#ffffff', 3)
for first, price, col in dash_levels:
    level(first, price, col, 2.5, '16px,12px')
level(X_LEFT, last_price, '#1fff47', 1, '1px,3px')

# yellow demand box
fig.add_trace(go.Scatter(x=[186, X_RIGHT, X_RIGHT, 186], y=[4640, 4640, 4064.4, 4064.4], mode='lines', fill='toself',
                         fillcolor='rgba(255,235,59,0.2)', line=dict(width=0), hoverinfo='skip', showlegend=False))

band(ch_orange_hi, ch_orange_lo, 'rgba(255,152,0,0.5)')
band(ch_pink_hi, ch_pink_lo, 'rgba(233,30,99,0.5)')
band(ch_white_hi, ch_white_lo, 'rgba(255,255,255,0.25)')
band(ch_olive_hi2, ch_olive_lo, 'rgba(255,235,59,0.25)')
band(ch_green_hi2, ch_green_lo, 'rgba(0,230,118,0.3)')

seg(ch_white_top, '#ffffff', 3)
seg(ch_blue_top, '#2196f3', 2.5)
seg(ch_green_top, '#30f060', 2.5)
seg(ch_orange_hi, '#ff9800', 2.5)
seg(ch_orange_lo, '#ff9800', 3)
seg(ch_cyan_1, '#26f0e0', 2.5)
seg(ch_pink_hi, '#e91e63', 2)
seg(ch_pink_lo, '#e91e63', 3.5)
seg(ch_yellow_hi, '#ffeb3b', 2)
seg(ch_white_hi, '#ffffff', 1)
seg(ch_white_lo, '#ffffff', 1.5)
seg(ch_white_lo, '#ffffff', 3.5, '26px,20px')
seg(ch_olive_hi, '#ffeb3b', 2)
seg(ch_olive_hi2, '#ffeb3b', 1)
seg(ch_olive_lo, '#e91e63', 3)
seg(ch_olive_lo2, '#ffeb3b', 1.2)
seg(ch_cyan_2, '#26f0e0', 2.5)
seg(ch_green_hi, '#ff9800', 2.5)
seg(ch_green_hi2, '#30f060', 1.2)
seg(ch_green_lo, '#30f060', 1.2)
seg(ch_green_lo2, '#30f060', 1.2)
seg(ch_blue_low, '#2196f3', 2.5)

# crosshair
fig.add_trace(go.Scatter(x=[crosshair_bar, crosshair_bar], y=[1661, 34600], mode='lines', hoverinfo='skip',
                         showlegend=False, line=dict(color='#00e5ff', width=2.5, dash='14px,10px')))

# wicks
bars = list(range(len(opens)))
wx, wy = [], []
for b, lo, hi in zip(bars, lows, highs):
    wx += [b, b, None]
    wy += [lo, hi, None]
fig.add_trace(go.Scatter(x=wx, y=wy, mode='lines', line=dict(color='#ffffff', width=1), hoverinfo='skip',
                         showlegend=False))

# candle bodies on an overlaying subplot, so they sit above the channel fills
fig.add_trace(go.Candlestick(x=bars, open=opens, close=closes,
                             high=[max(o, c) for o, c in zip(opens, closes)],
                             low=[min(o, c) for o, c in zip(opens, closes)],
                             increasing=dict(line=dict(color='#17ff46', width=1), fillcolor='#17ff46'),
                             decreasing=dict(line=dict(color='#cc0000', width=1), fillcolor='#cc0000'),
                             whiskerwidth=0, xaxis='x2', yaxis='y2', hoverinfo='skip', showlegend=False))
fig.add_trace(go.Scatter(x=list(range(dots_first_bar, dots_first_bar + len(dots))), y=dots, mode='markers',
                         marker=dict(color='#ffe93b', size=7.5), xaxis='x2', yaxis='y2', hoverinfo='skip',
                         showlegend=False))

# ------------------------------------------------------------------ callouts
callout('Buying Climax', (1093, 115, 1233, 158), (1163, 342), (1153, 1174), 'bottom')
callout('ST of Supply', (1588, 177, 1717, 221), (1226, 458), (1597, 209), 'corner')
callout('Test SPY<br>Phase B', (1621, 284, 1714, 345), (1289, 455), (1630, 334), 'corner', align='left')
callout('E. Test of<br>SPY Phase B', (1479, 450, 1603, 513), (1541, 650), (1532, 1551), 'bottom', align='right')
callout('STPSYR', (742, 732, 828, 776), (1005, 753), (743, 765), 'right')
callout('A. Re.', (1157, 1002, 1232, 1045), (1194, 788), (1185, 1205), 'top')
callout('S. Re.', (1206, 875, 1278, 918), (1242, 700), (1232, 1252), 'top')
callout('UT/LPSY<br>Phase C', (1840, 583, 1935, 645), (1888, 748), (1877, 1899), 'bottom', align='left')
callout('UT/LPSY<br>Phase D', (2298, 618, 2392, 680), (2345, 851), (2335, 2355), 'bottom', align='left')
callout('Up-Thrust<br>Phase D', (2165, 728, 2272, 789), (2219, 920), (2209, 2229), 'bottom', align='left')
callout('LPSY', (2517, 716, 2582, 759), (2550, 946), (2540, 2561), 'bottom')
callout('LPSY', (2612, 864, 2676, 907), (2644, 991), (2634, 2655), 'bottom')
callout('LPSY', (2722, 764, 2787, 808), (2754, 1021), (2744, 2765), 'bottom')
callout('LPSY', (2847, 915, 2913, 958), (2880, 1027), (2870, 2891), 'bottom')
callout('Up-Thrust/Last Point of Supply event came up to<br>the white/aqua upper b-bands in this 3-Day TF.',
        (2560, 414, 3262, 490), (2361, 887), (2578, 470), 'corner', fill='#0ce63a', color='#000000', size=30,
        align='left')
callout('MaTPSR', (3175, 519, 3291, 564), (2972, 543), (530, 553), 'left', fill='#7b1fa2')
callout('LTPSR', (3202, 772, 3283, 818), (2975, 795), (784, 805), 'left', fill='#f50ec8')
callout('MiTPSR', (3196, 1003, 3289, 1050), (2975, 1023), (1017, 1037), 'left', fill='#ff9800')
callout('NTPSR', (2538, 1268, 2624, 1315), (2880, 1291), (1281, 1302), 'right', fill='#ffeb3b', color='#000000')
callout('AR', (2967, 1065, 3015, 1108), (2990, 1271), (2981, 3000), 'bottom', fill=LIME, color='#000000')
callout('SR', (3094, 1141, 3139, 1183), (3117, 1271), (3108, 3127), 'bottom', fill=LIME, color='#000000')
callout('SR', (3173, 1162, 3218, 1205), (3195, 1292), (3186, 3205), 'bottom', fill=LIME, color='#000000')
callout('SR', (3440, 1185, 3485, 1228), (3463, 1275), (3454, 3473), 'bottom', fill=LIME, color='#000000')
callout('SC', (2953, 1536, 2997, 1579), (2975, 1437), (2965, 2985), 'top', fill=LIME, color='#000000')
callout('ST', (3063, 1617, 3108, 1660), (3085, 1518), (3075, 3095), 'top', fill=LIME, color='#000000')
callout('Test', (3135, 1525, 3193, 1568), (3164, 1429), (3153, 3174), 'top', fill=LIME, color='#000000')
callout('Test', (3292, 1567, 3350, 1609), (3321, 1482), (3311, 3331), 'top', fill=LIME, color='#000000')
callout('LPS', (3484, 1483, 3538, 1526), (3511, 1402), (3501, 3521), 'top', fill=LIME, color='#000000')
callout('E. Re. in<br>Phase B', (1399, 1303, 1494, 1364), (1448, 1138), (1437, 1457), 'top', align='left')
callout('E. Re. in<br>Phase B', (1682, 1210, 1778, 1271), (1726, 1091), (1720, 1740), 'top', align='left')
callout('SOW in<br>Phase D', (2126, 1304, 2217, 1365), (2170, 1186), (2161, 2182), 'top', align='left')
callout('Short-Lived SOW in Phase E of Distribution<br>quickly became support for Accumulation.',
        (2788, 1750, 3162, 1812), (2975, 1642), (2964, 2986), 'top', size=17.5)
callout('NTPSYR', (236, 978, 326, 1016))
callout('&amp;', (451, 978, 489, 1016))
callout('MTPSYR', (613, 978, 703, 1016), (864, 993), (987, 1003), 'right')
callout('LTPSYR', (144, 1302, 230, 1345), (391, 1324), (1314, 1335), 'right')

# ------------------------------------------------------------------ price scale labels
note(3598, 54, 'USD', size=24, color='#f0f0f0', font=SANS, xanchor='left')
rect(3586, 74, 3716, 91, '#d322ff')
tags = [
    (145, 3716, '#d322ff', '28703.96', '#ffffff'), (398, 3716, '#ffffff', '18953.00', '#131722'),
    (441, 3716, '#2962ff', '17640.33', '#ffffff'), (689, 3716, '#ff00ff', '11730.52', '#ffffff'),
    (895, 3703, '#f00fd0', '8349.70', '#ffffff'), (974, 3703, '#ff9800', '7339.17', '#131722'),
    (1089, 3703, '#ff9800', '6080.59', '#131722'), (1210, 3703, '#00f000', '4983.97', '#131722'),
    (1247, 3703, '#9c17d0', '4685.58', '#ffffff'), (1283, 3703, '#f44336', '4480.36', '#ffffff'),
    (1318, 3703, '#ffff00', '4409.83', '#131722'), (1353, 3703, '#ff9800', '4275.14', '#131722'),
    (1389, 3703, '#00ffff', '4069.91', '#131722'), (1424, 3703, '#ffff00', '4064.40', '#131722'),
    (1460, 3703, '#23252f', '3982.07', '#cc0000'), (1495, 3703, '#ffffff', '3943.09', '#131722'),
    (1530, 3703, '#ffff00', '3737.86', '#131722'), (1565, 3703, '#ffeb3b', '3737.86', '#131722'),
    (1600, 3703, '#00ffff', '3693.49', '#131722'), (1637, 3703, '#ffffff', '3532.64', '#131722'),
    (1672, 3703, '#00ffff', '3405.81', '#131722'), (1707, 3703, '#ff9800', '3200.59', '#131722'),
    (1742, 3703, '#00ffff', '3190.26', '#131722'), (1778, 3703, '#f44336', '2995.37', '#ffffff'),
    (1813, 3703, '#9c17d0', '2790.15', '#ffffff'),
]
for yc, xr, fill, txt, col in tags:
    rect(3586, yc - 17, xr, yc + 17, fill, line='#cc0000' if txt == '3982.07' else fill,
         lw=1.5 if txt == '3982.07' else 0)
    note(3603, yc, txt, size=24, color=col, font=SANS, xanchor='left')
rect(3586, 267, 3716, 329, '#1fff47')
note(3603, 283, '22898.06', size=24, color='#0b2a12', font=SANS, xanchor='left')
note(3603, 312, '1d 15h', size=24, color='#0a8a2a', font=SANS, xanchor='left')
rect(3324, 1877, 3474, 1921, '#00ffff')
note(3399, 1899, "12 Feb '19", size=24, color='#131722', font=SANS)

# axis border lines
rect(3585, panel_top, 3586.5, panel_bottom, '#ffffff')
rect(PL, 1875.5, panel_right, 1877, '#ffffff')

# header and footer text
note(13, 20, 'WyckoffMode published on TradingView.com, Jul 28, 2022 09:20 UTC', size=15.5, color='#b2b5be', xanchor='left')
G = '#1fff47'
note(23, 54, 'Bitcoin / U.S. Dollar, 3D, BITSTAMP &nbsp;O<span style="color:%s">21266.14</span> &nbsp;H<span style="color:%s">23452.83</span> &nbsp;L<span style="color:%s">21047.70</span> &nbsp;C<span style="color:%s">22898.06</span> &nbsp;<span style="color:%s">+1638.28 (+7.71%%)</span>' % (G, G, G, G, G),
     size=16.5, color='#ffffff', xanchor='left')
note(43, 1954, 'TradingView', size=19, color='#b2b5be', xanchor='left', font=SANS)
rect(14, 1947, 24, 1951, '#d8d8dc')
rect(19, 1947, 24, 1961, '#d8d8dc')
shapes.append(dict(type='path', xref='paper', yref='paper', layer='above', fillcolor='#d8d8dc', line=dict(width=0),
                   path=f'M {fx(30)},{fy(1947)} L {fx(38)},{fy(1947)} L {fx(32)},{fy(1961)} L {fx(26)},{fy(1961)} Z'))

fig.update_layout(
    width=W, height=H, autosize=False,
    margin=dict(l=PL, r=W - PR, t=PT, b=H - PB, pad=0),
    paper_bgcolor='#1e222d', plot_bgcolor='rgba(0,0,0,0)',
    showlegend=False, hovermode=False, boxgap=0.3, boxgroupgap=0,
    shapes=shapes, annotations=notes,
    xaxis=dict(range=[X_LEFT, X_RIGHT], showgrid=False, zeroline=False, showline=False,
               tickmode='array', tickvals=month_bars, ticktext=month_names, ticks='outside', ticklen=8,
               tickcolor='rgba(0,0,0,0)', tickfont=dict(family=SANS, size=24, color='#e6e6e6'),
               rangeslider=dict(visible=False)),
    yaxis=dict(type='log', range=[3.2206, 4.5392], side='right', showgrid=False, zeroline=False, showline=False,
               tickmode='array', tickvals=tick_prices, ticktext=[f'{v:.2f}' for v in tick_prices],
               ticks='outside', ticklen=15, tickcolor='rgba(0,0,0,0)',
               tickfont=dict(family=SANS, size=24, color='#e6e6e6')),
    xaxis2=dict(overlaying='x', matches='x', visible=False, rangeslider=dict(visible=False)),
    yaxis2=dict(overlaying='y', type='log', range=[3.2206, 4.5392], side='right', visible=False),
)

fig.write_html("out.html", config={'displayModeBar': False},
               post_script="document.body.style.margin='0';document.body.style.background='#1e222d';")
